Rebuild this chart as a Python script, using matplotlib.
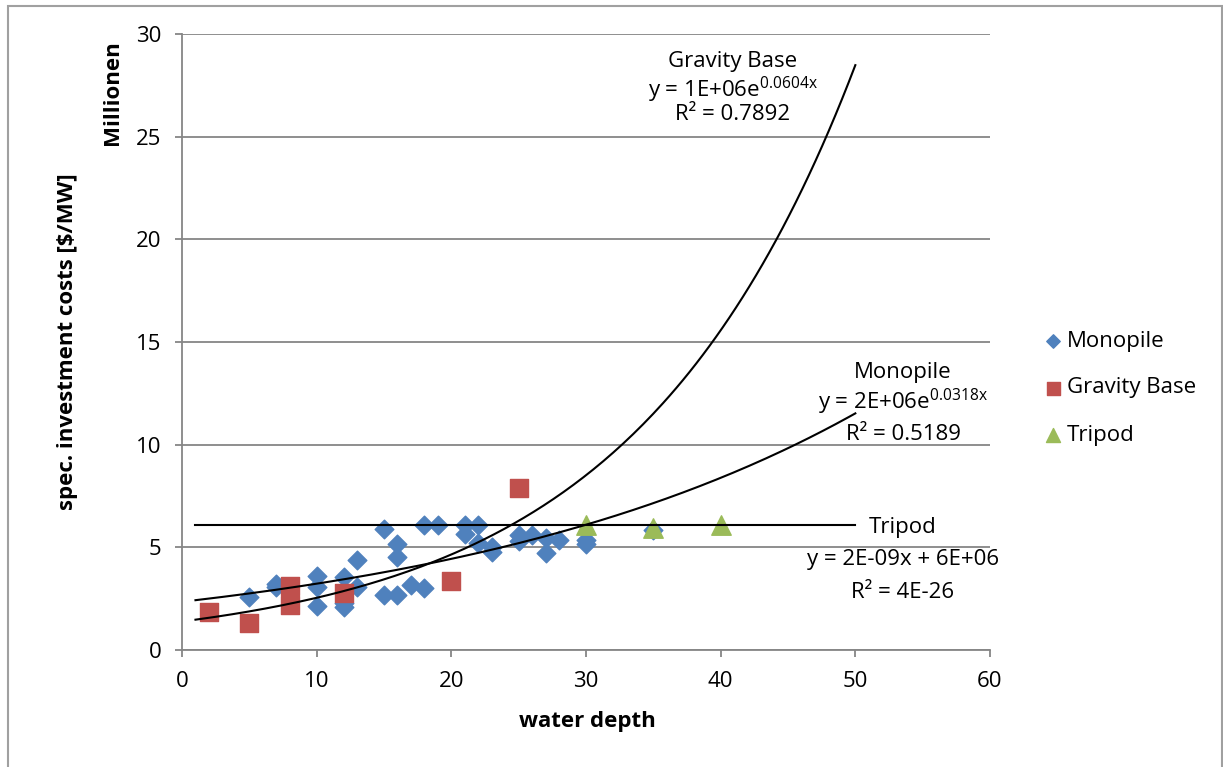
import numpy as np
import matplotlib
matplotlib.use("Agg")
import matplotlib.pyplot as plt
from matplotlib.patches import Rectangle

# data (costs in million $/MW)
mono_depth = [5, 7, 7, 10, 10, 10, 12, 12, 12, 13, 13, 15, 15, 16, 16, 16, 17,
              18, 18, 19, 21, 21, 22, 22, 23, 23, 25, 25, 26, 27, 27, 28, 30, 30, 35]
mono_cost = [2.6, 3.05, 3.2, 3.6, 3.05, 2.15, 3.55, 2.1, 2.3, 4.4, 3.07, 5.9, 2.7,
             5.15, 4.55, 2.7, 3.15, 6.1, 3.0, 6.1, 6.1, 5.65, 6.1, 5.2, 5.0, 4.75,
             5.6, 5.3, 5.6, 5.45, 4.7, 5.35, 5.35, 5.15, 5.85]
gb_depth = [2, 5, 8, 8, 12, 20, 25]
gb_cost = [1.85, 1.3, 3.1, 2.2, 2.8, 3.35, 7.9]
tri_depth = [30, 35, 40]
tri_cost = [6.1, 5.95, 6.1]

# trendline coefficients (Excel fits, in millions)
gb_a, gb_b = 1.39, 0.0604
mp_a, mp_b = 2.35, 0.0318
tri_c = 6.09

plt.rcParams['font.family'] = ['Open Sans', 'DejaVu Sans']
plt.rcParams['mathtext.fontset'] = 'custom'
plt.rcParams['mathtext.rm'] = 'Open Sans'

FS = 16
W, H = 1223, 767
fig = plt.figure(figsize=(W / 100, H / 100), dpi=100)
ax = fig.add_axes([182 / W, 1 - 650 / H, (990 - 182) / W, (650 - 34) / H])

grey = '#868686'
ax.scatter(mono_depth, mono_cost, marker='D', s=9.5 ** 2, color='#4F81BD', label='Monopile', zorder=3)
ax.scatter(gb_depth, gb_cost, marker='s', s=13 ** 2, color='#C0504D', label='Gravity Base', zorder=3)
ax.scatter(tri_depth, tri_cost, marker='^', s=14 ** 2, color='#9BBB59', label='Tripod', zorder=3)

xx = np.linspace(1, 50, 200)
ax.plot(xx, gb_a * np.exp(gb_b * xx), color='black', lw=1.5, zorder=4)
ax.plot(xx, mp_a * np.exp(mp_b * xx), color='black', lw=1.5, zorder=4)
ax.plot([1, 50], [tri_c, tri_c], color='black', lw=1.5, zorder=4)

ax.set_xlim(0, 60)
ax.set_ylim(0, 30)
ax.set_xticks(range(0, 61, 10))
ax.set_yticks(range(0, 31, 5))
ax.yaxis.grid(True, color=grey, lw=1.3)
ax.set_axisbelow(True)
for s in ['top', 'right']:
    ax.spines[s].set_visible(False)
for s in ['left', 'bottom']:
    ax.spines[s].set_color(grey)
    ax.spines[s].set_linewidth(1.3)
ax.tick_params(colors=grey, labelcolor='black', labelsize=FS, length=5, width=1.3, direction='out')
ax.tick_params(axis='x', pad=10)
ax.tick_params(axis='y', pad=10)

fig.text(587 / W, 1 - 722 / H, 'water depth', fontsize=FS, fontweight='bold',
         ha='center', va='center')
fig.text(68 / W, 1 - 342 / H, 'spec. investment costs [$/MW]', rotation=90,
         fontsize=FS, fontweight='bold', ha='center', va='center')
fig.text(112 / W, 1 - 93 / H, 'Millionen', rotation=90,
         fontsize=FS, fontweight='bold', ha='center', va='center')

# trendline labels
def label(xc, ys, lines):
    for y, t in zip(ys, lines):
        fig.text(xc / W, 1 - y / H, t, fontsize=FS, ha='center', va='center')

label(733, [61, 90, 115], ['Gravity Base', r'y = 1E+06e$^{\mathrm{0.0604x}}$', 'R² = 0.7892'])
label(903, [372, 402, 435], ['Monopile', r'y = 2E+06e$^{\mathrm{0.0318x}}$', 'R² = 0.5189'])
label(903, [527, 560, 592], ['Tripod', 'y = 2E-09x + 6E+06', 'R² = 4E-26'])

fig.legend(loc='center left', bbox_to_anchor=(1021 / W, 1 - 388 / H), frameon=False,
           fontsize=FS, handletextpad=0.05, handlelength=1.1, labelspacing=1.17,
           markerscale=0.72)

fig.patches.append(Rectangle((8 / W, -0.1), (1222 - 8) / W, 1.1 - 6 / H,
                             transform=fig.transFigure, fill=False, ec='#a0a0a0', lw=1.5))

fig.savefig('out.png', dpi=100)
